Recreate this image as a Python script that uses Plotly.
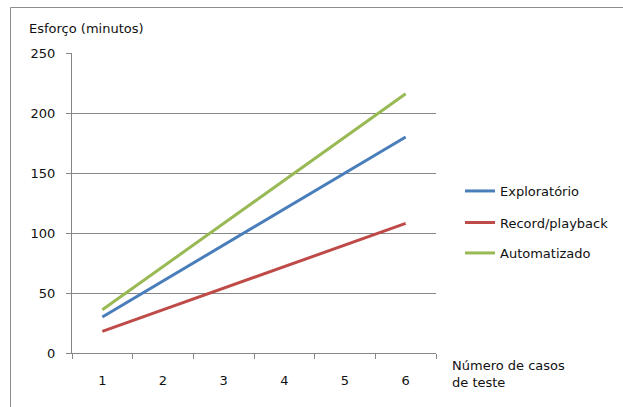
import plotly.graph_objects as go

categories = ["1", "2", "3", "4", "5", "6"]
exploratorio = [30, 60, 90, 120, 150, 180]
record_playback = [18, 36, 54, 72, 90, 108]
automatizado = [36, 72, 108, 144, 180, 216]
y_ticks = [0, 50, 100, 150, 200, 250]

W, H = 623, 407
L, R, T, B = 72, 187, 53, 54
pw, ph = W - L - R, H - T - B

def px(x):
    return (x - L) / pw

def py(y):
    return 1 - (y - T) / ph

FONT = "DejaVu Sans"
series = [
    ("Exploratório", exploratorio, "#4A7EBB", "legend", 191),
    ("Record/playback", record_playback, "#BE4B48", "legend2", 222.5),
    ("Automatizado", automatizado, "#98B954", "legend3", 253),
]

fig = go.Figure()
for name, vals, color, lg, _ in series:
    fig.add_trace(go.Scatter(x=categories, y=vals, name=name, mode="lines",
                             line=dict(color=color, width=3), legend=lg))

layout = dict(
    width=W, height=H,
    margin=dict(l=L, r=R, t=T, b=B, autoexpand=False),
    paper_bgcolor="white", plot_bgcolor="white",
    font=dict(family=FONT, size=13, color="#111111"),
    xaxis=dict(type="category", range=[-0.5, 5.5], tickson="boundaries",
               ticks="outside", ticklen=5, ticklabelstandoff=15,
               tickcolor="#868686", showline=True, linecolor="#868686", linewidth=1,
               showgrid=False, tickfont=dict(size=13), fixedrange=True),
    yaxis=dict(range=[0, 250], tickvals=y_ticks, ticks="outside", ticklen=5,
               ticklabelstandoff=8,
               tickcolor="#868686", showline=True, linecolor="#868686", linewidth=1,
               showgrid=True, gridcolor="#868686", gridwidth=1, zeroline=False,
               tickfont=dict(size=13), fixedrange=True),
    showlegend=True,
)
for name, vals, color, lg, ypix in series:
    layout[lg] = dict(xref="container", yref="container",
                      x=460 / W, y=1 - ypix / H, xanchor="left", yanchor="middle",
                      bgcolor="rgba(0,0,0,0)", borderwidth=0,
                      font=dict(family=FONT, size=13, color="#111111"))
fig.update_layout(**layout)

fig.add_annotation(text="Esforço (minutos)", xref="paper", yref="paper",
                   x=px(27), y=py(28), xanchor="left", yanchor="middle",
                   showarrow=False, font=dict(size=13))
fig.add_annotation(text="Número de casos<br>de teste", xref="paper", yref="paper",
                   x=px(450), y=py(374), xanchor="left", yanchor="middle", align="left",
                   showarrow=False, font=dict(size=13))

# outer chart-area border (top and left visible), kept inside the figure
fig.add_shape(type="line", xref="paper", yref="paper", x0=px(10.5), x1=px(623),
              y0=py(7.5), y1=py(7.5), line=dict(color="#8c8c8c", width=1))
fig.add_shape(type="line", xref="paper", yref="paper", x0=px(10.5), x1=px(10.5),
              y0=py(7.5), y1=py(407), line=dict(color="#8c8c8c", width=1))

fig.write_html("out.html", config={"displayModeBar": False},
               post_script="document.body.style.margin='0';document.body.style.overflow='hidden';")
